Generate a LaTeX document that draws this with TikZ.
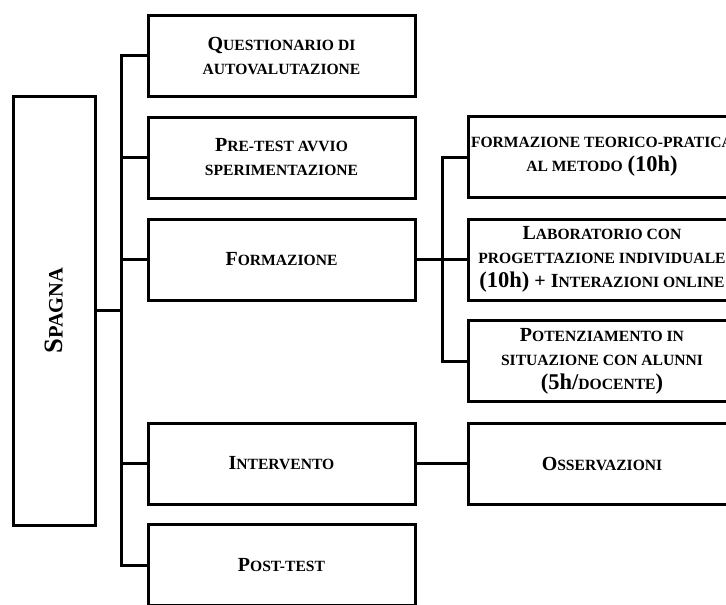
\documentclass[tikz,border=0pt]{standalone}
\usepackage{fontspec}
\setmainfont{Liberation Serif}
\newcommand\sm[1]{{\fontsize{15.6}{24}\selectfont #1}}
\newcommand\bg[1]{{\fontsize{22.5}{24}\selectfont #1}}
\tikzset{
  box/.style={draw=black, line width=3pt, minimum width=267pt, minimum height=81pt,
    align=center, inner sep=0pt, font=\bfseries\fontsize{20}{24}\selectfont},
  conn/.style={draw=black, line width=3pt}
}
\begin{document}
\begin{tikzpicture}[x=1pt,y=-1pt]
\clip (0,0) rectangle (726,605);
\node[box, minimum width=82pt, minimum height=429pt] (sp) at (54,310.5)
  {\rotatebox{90}{\fontsize{26.5}{30}\selectfont S{\fontsize{20.5}{30}\selectfont PAGNA}}};
\node[box] (q1) at (281.5,55.5) {Q\sm{UESTIONARIO DI}\\\sm{AUTOVALUTAZIONE}};
\node[box] (q2) at (281.5,157.5) {P\sm{RE-TEST AVVIO}\\\sm{SPERIMENTAZIONE}};
\node[box] (fo) at (281.5,259.5) {F\sm{ORMAZIONE}};
\node[box] (in) at (281.5,463.5) {I\sm{NTERVENTO}};
\node[box] (po) at (281.5,565) {P\sm{OST-TEST}};
\node[box, minimum width=268pt] (a) at (602,157) {\sm{FORMAZIONE TEORICO-PRATICA}\\\sm{AL METODO} \bg{(10h)}};
\node[box, minimum width=268pt] (b) at (602,259.5) {L\sm{ABORATORIO CON}\\\sm{PROGETTAZIONE INDIVIDUALE}\\\bg{(10h)} + I\sm{NTERAZIONI ONLINE}};
\node[box, minimum width=268pt] (c) at (602,361) {P\sm{OTENZIAMENTO IN}\\\sm{SITUAZIONE CON ALUNNI}\\\bg{(5h/}\sm{DOCENTE}\bg{)}};
\node[box, minimum width=268pt] (d) at (602,463.5) {O\sm{SSERVAZIONI}};
\coordinate (t1) at (121,0);
\coordinate (t2) at (442,0);
\draw[conn] (q1.west) -- (q1.west -| t1) -- (po.west -| t1) -- (po.west);
\draw[conn] (q2.west) -- (q2.west -| t1);
\draw[conn] (fo.west) -- (fo.west -| t1);
\draw[conn] (in.west) -- (in.west -| t1);
\draw[conn] (sp.east) -- (sp.east -| t1);
\draw[conn] (fo.east) -- (b.west);
\draw[conn] (a.west) -- (a.west -| t2) -- (c.west -| t2) -- (c.west);
\draw[conn] (in.east) -- (d.west);
\end{tikzpicture}
\end{document}
